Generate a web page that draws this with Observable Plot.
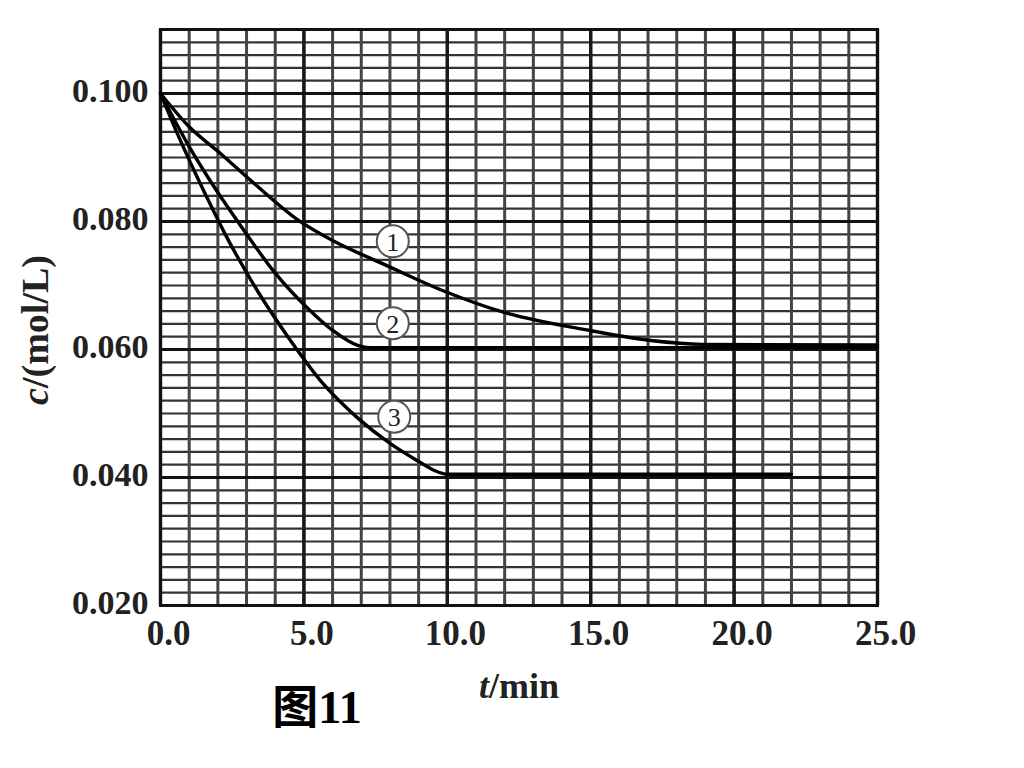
<!DOCTYPE html>
<html><head><meta charset="utf-8">
<script src="https://cdn.jsdelivr.net/npm/d3@7"></script>
<script src="https://cdn.jsdelivr.net/npm/@observablehq/plot@0.6"></script>
<style>body{margin:0;background:#fff;} #chart{width:1024px;height:768px;}</style>
</head><body><div id="chart"></div>
<script>
// Curve data (t in min, c in mol/L)
const curve1T = [0, 1.0, 2.1, 3.2, 4.8, 6.05, 7.8, 9.9, 11.9, 14.8, 17.1, 18.9, 25];
const curve1C = [0.100, 0.0948, 0.0906, 0.0862, 0.0802, 0.0769, 0.0733, 0.0691, 0.0659, 0.0631, 0.0614, 0.0608, 0.0607];
const curve2T = [0, 1.0, 1.57, 2.17, 2.85, 3.95, 5.14, 6.0, 6.9, 7.3, 25];
const curve2C = [0.100, 0.0917, 0.0875, 0.0834, 0.0790, 0.0722, 0.0664, 0.0630, 0.0606, 0.0603, 0.0603];
const curve3T = [0, 0.63, 1.22, 1.82, 2.2, 3.39, 4.55, 5.7, 6.9, 8.04, 9.0, 9.55, 10.0, 22.0];
const curve3C = [0.100, 0.0933, 0.0875, 0.0819, 0.0785, 0.0691, 0.0613, 0.0545, 0.0492, 0.0452, 0.0425, 0.0411, 0.0405, 0.0405];
const curveNames = ["1", "2", "3"];
const labelT = [8.1, 8.1, 8.15];
const labelC = [0.0769, 0.0641, 0.0495];
// Axis ticks and graph-paper grid
const xTicks = [0, 5, 10, 15, 20, 25];
const yTicks = [0.02, 0.04, 0.06, 0.08, 0.10];
const minorT = d3.range(0, 26);
const minorC = d3.range(0, 46).map(i => +(0.02 + i * 0.002).toFixed(3));

const lines = [
  ...curve1T.map((t, i) => ({t, c: curve1C[i], k: "1"})),
  ...curve2T.map((t, i) => ({t, c: curve2C[i], k: "2"})),
  ...curve3T.map((t, i) => ({t, c: curve3C[i], k: "3"}))
];
const labels = curveNames.map((n, i) => ({n, t: labelT[i], c: labelC[i]}));

const font = "'Liberation Serif', 'DejaVu Serif', serif";
const chart = Plot.plot({
  width: 1024, height: 768,
  marginLeft: 160, marginRight: 147, marginTop: 29, marginBottom: 163,
  x: {domain: [0, 25]},
  y: {domain: [0.02, 0.11]},
  style: {fontFamily: font, background: "#fff"},
  marks: [
    Plot.ruleY(minorC, {stroke: "#333", strokeWidth: 2.2}),
    Plot.ruleX(minorT, {stroke: "#444", strokeWidth: 3}),
    Plot.ruleX(xTicks, {stroke: "#1a1a1a", strokeWidth: 3.4}),
    Plot.ruleY(yTicks, {stroke: "#111", strokeWidth: 3}),
    Plot.frame({stroke: "#111", strokeWidth: 3}),
    Plot.line(lines, {x: "t", y: "c", z: "k", stroke: "#000", strokeWidth: 3.4, curve: "monotone-x"}),
    Plot.dot(labels, {x: "t", y: "c", r: 16, fill: "#fff", stroke: "#555", strokeWidth: 2}),
    Plot.text(labels, {x: "t", y: "c", text: "n", fontSize: 26, fontFamily: font, fill: "#222", dy: 1}),
    Plot.axisX(xTicks, {tickSize: 0, tickPadding: 15, dx: 8, tickFormat: d => d.toFixed(1), fontSize: 35, fontWeight: "bold", fill: "#222", label: null}),
    Plot.axisY(yTicks, {tickSize: 0, tickPadding: 12, dy: -2, tickFormat: d => d.toFixed(3), fontSize: 34, fontWeight: "bold", fill: "#222", label: null})
  ]
});
document.getElementById("chart").appendChild(chart);

const svg = d3.select(chart);
const yl = svg.append("text")
  .attr("transform", "translate(48,330) rotate(-90)")
  .attr("text-anchor", "middle")
  .attr("font-family", font).attr("font-size", 38).attr("font-weight", "bold").attr("fill", "#222");
yl.append("tspan").attr("font-style", "italic").text("c");
yl.append("tspan").text("/(mol/L)");
const xl = svg.append("text")
  .attr("x", 519).attr("y", 698)
  .attr("text-anchor", "middle")
  .attr("font-family", font).attr("font-size", 36).attr("font-weight", "bold").attr("fill", "#222");
xl.append("tspan").attr("font-style", "italic").text("t");
xl.append("tspan").text("/min");
const tl = svg.append("text")
  .attr("x", 317).attr("y", 723)
  .attr("text-anchor", "middle")
  .attr("font-size", 46).attr("font-weight", "bold").attr("fill", "#000");
tl.append("tspan").attr("font-family", "'Noto Sans CJK SC', sans-serif").text("图");
tl.append("tspan").attr("font-family", font).text("11");
</script>
</body></html>
